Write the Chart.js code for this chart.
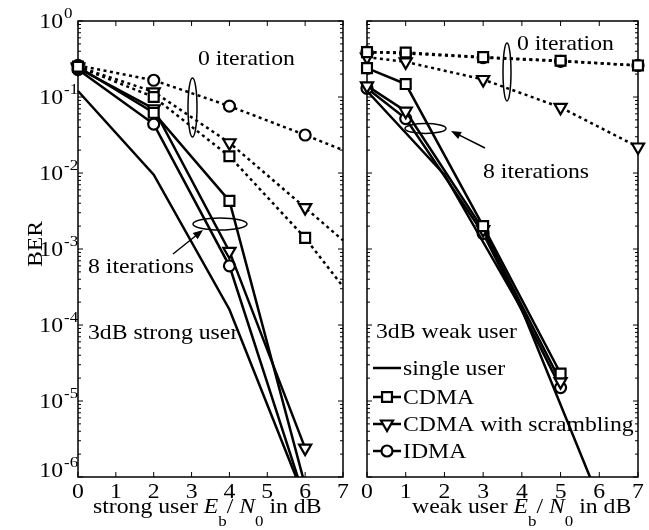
<!DOCTYPE html>
<html>
<head>
<meta charset="utf-8">
<script src="https://cdn.jsdelivr.net/npm/chart.js@4.4.1/dist/chart.umd.min.js"></script>
<style>
  body { margin: 0; background: #fff; }
  #wrap { position: relative; width: 649px; height: 530px; }
  canvas { position: absolute; left: 0; top: 0; }
</style>
</head>
<body>
<div id="wrap">
  <canvas id="strong" width="649" height="530"></canvas>
  <canvas id="weak" width="649" height="530"></canvas>
</div>
<script>
// ---- data ----
// left: 3dB strong user
const snrStrong = [0, 2, 4, 6];
const snrStrongEdge = [0, 2, 4, 6, 7];   // 0 iteration curves run out to the frame
const singleUser = [0.12, 0.0095, 1.6e-4, 5e-7];
const strongCdma8 = [0.25, 0.062, 0.0043, 7.7e-7];
const strongScr8 = [0.24, 0.07, 9.3e-4, 2.4e-6];
const strongIdma8 = [0.23, 0.044, 6e-4, 5e-7];
const strongCdma0 = [0.25, 0.1, 0.0166, 0.0014, 3.2e-4];
const strongScr0 = [0.25, 0.117, 0.025, 0.0035, 0.0013];
const strongIdma0 = [0.26, 0.166, 0.076, 0.0316, 0.02];

// right: 3dB weak user
const snrWeak0 = [0, 1, 3, 5, 7];
const snrWeak8 = [0, 1, 3, 5];
const weakCdma0 = [0.39, 0.385, 0.335, 0.3, 0.26];
const weakScr0 = [0.335, 0.29, 0.17, 0.073, 0.022];
const weakIdma0 = [0.39, 0.375, 0.33, 0.295, 0.26];
const weakCdma8 = [0.24, 0.148, 0.002, 2.3e-5];
const weakScr8 = [0.14, 0.065, 0.0018, 1.8e-5];
const weakIdma8 = [0.13, 0.052, 0.0016, 1.5e-5];

const xTicks = [0, 1, 2, 3, 4, 5, 6, 7];
const decades = [0, 1, 2, 3, 4, 5, 6];
const legendNames = ['single user', 'CDMA', 'CDMA with scrambling', 'IDMA'];

// ---- styling ----
const SERIF = '"Liberation Serif", "DejaVu Serif", serif';
const SX = 1.13; // the scanned text is a bit wider than tall
const marks = {
  single: { shape: 'line', r: 0, rot: 0 },
  cdma: { shape: 'rect', r: 7, rot: 0 },
  scr: { shape: 'triangle', r: 7, rot: 180 },
  idma: { shape: 'circle', r: 5.5, rot: 0 },
};

function series(xs, ys, mark, dotted, hideEdge) {
  return {
    data: xs.map((x, i) => ({ x: x, y: ys[i] })),
    borderColor: '#000',
    borderWidth: 2.5,
    borderDash: dotted ? [3, 3.5] : [],
    pointStyle: mark.shape === 'line' ? 'circle' : mark.shape,
    pointRadius: ctx => (hideEdge && ctx.raw && ctx.raw.x > 6.5) ? 0 : mark.r,
    pointRotation: mark.rot,
    pointBorderWidth: 2.2,
    pointBorderColor: '#000',
    pointBackgroundColor: '#fff',
    pointHoverRadius: 0,
    tension: 0,
    clip: { left: 12, top: 12, right: 12, bottom: 0 },
  };
}

function text(ctx, s, x, y, size, opts) {
  opts = opts || {};
  ctx.save();
  ctx.fillStyle = '#000';
  ctx.font = (opts.italic ? 'italic ' : '') + size + 'px ' + SERIF;
  ctx.textAlign = opts.align || 'left';
  ctx.textBaseline = 'alphabetic';
  ctx.translate(x, y);
  if (opts.rotate) ctx.rotate(opts.rotate);
  ctx.scale(SX, 1);
  ctx.fillText(s, 0, 0);
  const w = ctx.measureText(s).width * SX;
  ctx.restore();
  return w;
}

function ellipse(ctx, cx, cy, rx, ry) {
  ctx.save();
  ctx.strokeStyle = '#000';
  ctx.lineWidth = 1.5;
  ctx.beginPath();
  ctx.ellipse(cx, cy, rx, ry, 0, 0, Math.PI * 2);
  ctx.stroke();
  ctx.restore();
}

function arrow(ctx, x1, y1, x2, y2) {
  const a = Math.atan2(y2 - y1, x2 - x1);
  ctx.save();
  ctx.strokeStyle = '#000';
  ctx.fillStyle = '#000';
  ctx.lineWidth = 1.5;
  ctx.beginPath();
  ctx.moveTo(x1, y1);
  ctx.lineTo(x2 - 6 * Math.cos(a), y2 - 6 * Math.sin(a));
  ctx.stroke();
  ctx.beginPath();
  ctx.moveTo(x2, y2);
  ctx.lineTo(x2 - 10 * Math.cos(a) + 4 * Math.sin(a), y2 - 10 * Math.sin(a) - 4 * Math.cos(a));
  ctx.lineTo(x2 - 10 * Math.cos(a) - 4 * Math.sin(a), y2 - 10 * Math.sin(a) + 4 * Math.cos(a));
  ctx.closePath();
  ctx.fill();
  ctx.restore();
}

// x label with E_b / N_0
function xLabel(ctx, who, x, y) {
  const parts = [
    [who + ' user ', 21, 0, false],
    ['E', 21, 0, true],
    ['b', 15, 13, false],
    ['/ ', 21, 0, false],
    ['N', 21, 0, true],
    ['0', 15, 13, false],
    [' in dB', 21, 0, false],
  ];
  parts.forEach(p => {
    x += text(ctx, p[0], x, y + p[2], p[1], { italic: p[3] });
  });
}

// frame with inward MATLAB-style ticks, tick labels
function frameDecor(showY) {
  return {
    id: 'frameDecor',
    beforeDatasetsDraw(chart) {
      const ctx = chart.ctx;
      const a = chart.chartArea;
      const xs = chart.scales.x, ys = chart.scales.y;
      ctx.save();
      ctx.strokeStyle = '#000';
      ctx.lineWidth = 1.5;
      ctx.strokeRect(a.left, a.top, a.right - a.left, a.bottom - a.top);
      ctx.lineWidth = 1;
      ctx.beginPath();
      decades.forEach(e => {
        const py = ys.getPixelForValue(Math.pow(10, -e));
        ctx.moveTo(a.left, py); ctx.lineTo(a.left + 5, py);
        ctx.moveTo(a.right, py); ctx.lineTo(a.right - 5, py);
        if (e > 0) {
          for (let m = 2; m <= 9; m++) {
            const pm = ys.getPixelForValue(m * Math.pow(10, -e));
            ctx.moveTo(a.left, pm); ctx.lineTo(a.left + 3, pm);
            ctx.moveTo(a.right, pm); ctx.lineTo(a.right - 3, pm);
          }
        }
      });
      xTicks.forEach(t => {
        const px = xs.getPixelForValue(t);
        ctx.moveTo(px, a.bottom); ctx.lineTo(px, a.bottom - 5);
        ctx.moveTo(px, a.top); ctx.lineTo(px, a.top + 5);
      });
      ctx.stroke();
      ctx.restore();
    },
    afterDraw(chart) {
      const ctx = chart.ctx;
      const xs = chart.scales.x, ys = chart.scales.y;
      xTicks.forEach(t => {
        text(ctx, String(t), xs.getPixelForValue(t), 498, 21, { align: 'center' });
      });
      if (showY) {
        decades.forEach(e => {
          let py = ys.getPixelForValue(Math.pow(10, -e));
          if (e === 6) py -= 7;
          const lx = chart.chartArea.left - 15;
          text(ctx, '10', lx, py + 7, 21, { align: 'right' });
          text(ctx, e === 0 ? '0' : '-' + e, lx + 1, py - 3, 15);
        });
      }
    },
  };
}

const strongNotes = {
  id: 'strongNotes',
  afterDraw(chart) {
    const ctx = chart.ctx;
    text(ctx, '0 iteration', 198, 65, 21);
    ellipse(ctx, 192.5, 107.5, 4.5, 29.5);
    ellipse(ctx, 220, 224, 27, 6);
    arrow(ctx, 173, 254, 203, 230);
    text(ctx, '8 iterations', 88, 273, 21);
    text(ctx, '3dB strong user', 88, 339, 21);
    text(ctx, 'BER', 42, 244, 21, { align: 'center', rotate: -Math.PI / 2 });
    xLabel(ctx, 'strong', 93, 513);
  },
};

const weakNotes = {
  id: 'weakNotes',
  afterDraw(chart) {
    const ctx = chart.ctx;
    text(ctx, '0 iteration', 517, 50, 21);
    ellipse(ctx, 507, 72, 4, 29);
    ellipse(ctx, 425.5, 128.5, 20.5, 5);
    arrow(ctx, 485, 148, 451, 131);
    text(ctx, '8 iterations', 483, 178, 21);
    text(ctx, '3dB weak user', 376, 338, 21);
    xLabel(ctx, 'weak', 412, 513);

    // legend
    const keys = [marks.single, marks.cdma, marks.scr, marks.idma];
    const rows = [368, 397, 424, 451];
    keys.forEach((m, i) => {
      const y = rows[i];
      ctx.save();
      ctx.strokeStyle = '#000';
      ctx.lineWidth = 2.5;
      ctx.beginPath();
      ctx.moveTo(373, y); ctx.lineTo(401, y);
      ctx.stroke();
      if (m.r > 0) {
        ctx.fillStyle = '#fff';
        ctx.lineWidth = 2.2;
        Chart.helpers.drawPoint(ctx, { pointStyle: m.shape, radius: m.r, rotation: m.rot, borderWidth: 2.2 }, 387, y);
      }
      ctx.restore();
      text(ctx, legendNames[i], 403, y + 7, 21);
    });
  },
};

function scales() {
  return {
    x: { type: 'linear', min: 0, max: 7, display: false },
    y: { type: 'logarithmic', min: 1e-6, max: 1, display: false },
  };
}

new Chart(document.getElementById('strong'), {
  type: 'line',
  data: {
    datasets: [
      series(snrStrong, singleUser, marks.single, false),
      series(snrStrong, strongCdma8, marks.cdma, false),
      series(snrStrong, strongScr8, marks.scr, false),
      series(snrStrong, strongIdma8, marks.idma, false),
      series(snrStrongEdge, strongCdma0, marks.cdma, true, true),
      series(snrStrongEdge, strongScr0, marks.scr, true, true),
      series(snrStrongEdge, strongIdma0, marks.idma, true, true),
    ],
  },
  options: {
    responsive: false,
    animation: false,
    events: [],
    layout: { padding: { left: 78, right: 306, top: 21, bottom: 53 } },
    scales: scales(),
    plugins: { legend: { display: false }, tooltip: { enabled: false } },
  },
  plugins: [frameDecor(true), strongNotes],
});

new Chart(document.getElementById('weak'), {
  type: 'line',
  data: {
    datasets: [
      series(snrStrong, singleUser, marks.single, false),
      series(snrWeak8, weakCdma8, marks.cdma, false),
      series(snrWeak8, weakScr8, marks.scr, false),
      series(snrWeak8, weakIdma8, marks.idma, false),
      series(snrWeak0, weakCdma0, marks.cdma, true),
      series(snrWeak0, weakScr0, marks.scr, true),
      series(snrWeak0, weakIdma0, marks.idma, true),
    ],
  },
  options: {
    responsive: false,
    animation: false,
    events: [],
    layout: { padding: { left: 367, right: 11, top: 21, bottom: 53 } },
    scales: scales(),
    plugins: { legend: { display: false }, tooltip: { enabled: false } },
  },
  plugins: [frameDecor(false), weakNotes],
});
</script>
</body>
</html>
